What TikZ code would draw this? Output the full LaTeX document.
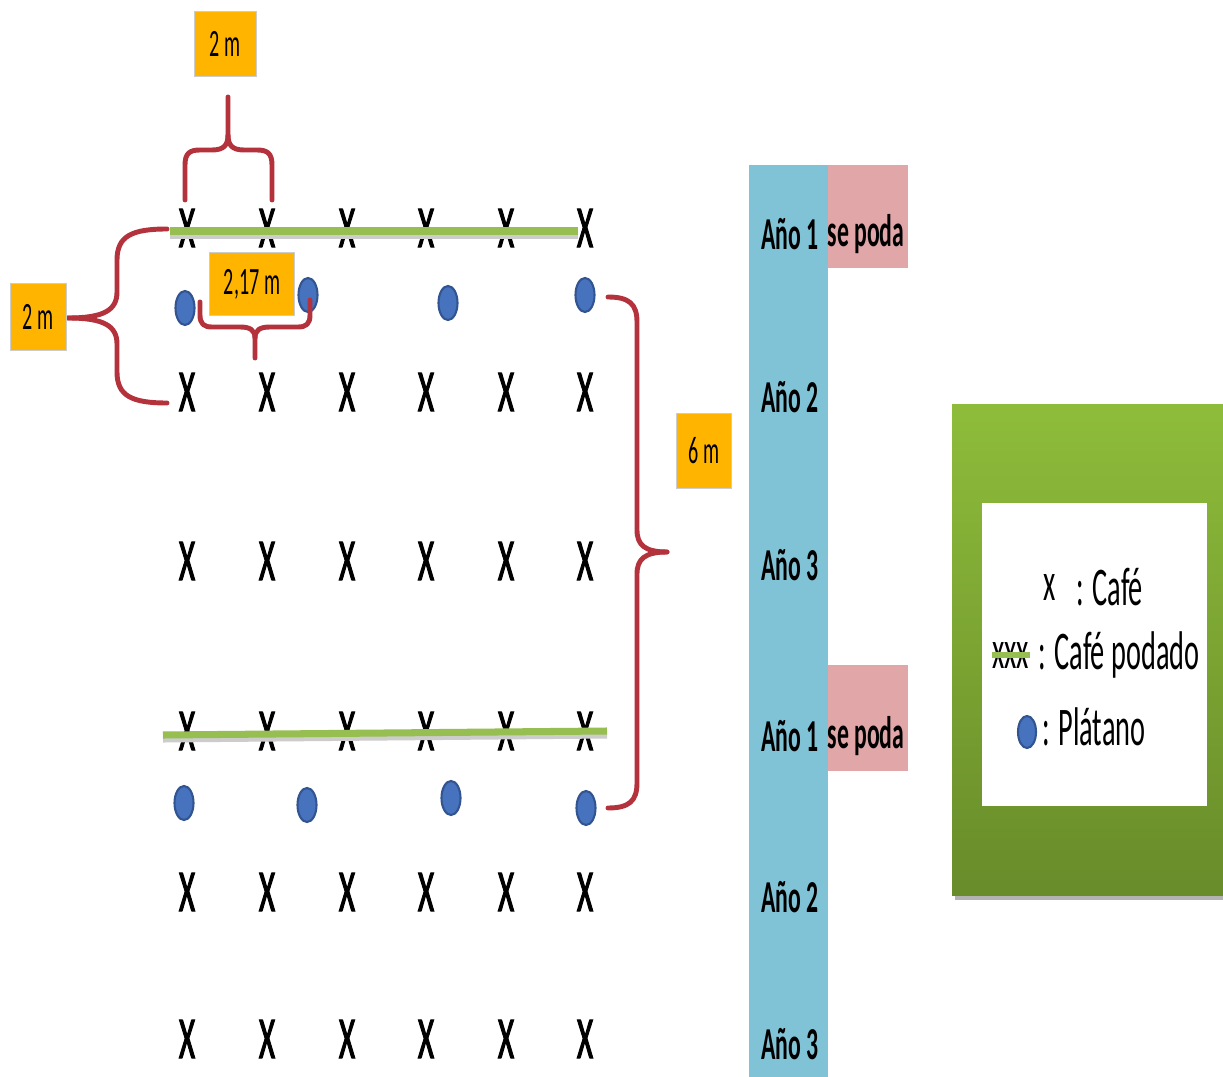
\documentclass[tikz,border=0pt]{standalone}
\usepackage{fontspec}
\setmainfont{Carlito}[FakeStretch=0.52]
\newfontfamily\crossfont{Carlito}[FakeStretch=0.52, FakeBold=1.6]
\definecolor{gold}{RGB}{255,180,0}
\definecolor{bracered}{RGB}{180,50,60}
\definecolor{leafgreen}{RGB}{150,190,80}
\definecolor{dotblue}{RGB}{70,114,190}
\definecolor{dotedge}{RGB}{50,85,145}
\definecolor{colblue}{RGB}{128,195,214}
\definecolor{podapink}{RGB}{224,166,168}
\definecolor{legtop}{RGB}{142,188,58}
\definecolor{legbot}{RGB}{104,140,42}
\tikzset{
  x=0.02cm, y=-0.02cm,
  cafe/.style={inner sep=0pt, font=\crossfont\fontsize{34}{34}\selectfont},
  dot/.style={draw=dotedge, line width=1.2pt, fill=dotblue},
  label box/.style={fill=gold, draw=gray!40, line width=0.4pt, inner sep=0pt,
    font=\fontsize{22}{22}\selectfont},
  brace/.style={draw=bracered, line width=2.8pt, line cap=round, line join=round},
  pruned/.style={draw=leafgreen, line width=4pt},
  year/.style={font=\bfseries\fontsize{26}{26}\selectfont, inner sep=0pt},
  legtext/.style={font=\fontsize{31}{31}\selectfont, inner sep=0pt, anchor=west},
}
\begin{document}
\begin{tikzpicture}
\useasboundingbox (0,0) rectangle (1223,1077);
\fill[white] (0,0) rectangle (1223,1077);

% ---- coffee crosses ----
\foreach \r/\yy in {1/228,2/392,3/561,4/731,5/892,6/1039}{
  \foreach \c/\xx in {1/187,2/267,3/347,4/426,5/506,6/585}{
    \node[cafe] (x\r\c) at (\xx,\yy) {X};
  }
}

% ---- pruned rows (green lines over the crosses) ----
\draw[pruned, draw=black!20] (170,235) -- (578,235);
\draw[pruned] (170,231) -- (578,231);
\draw[pruned, draw=black!20] (163,739) -- (607,735);
\draw[pruned] (163,735) -- (607,731);

% ---- plantain dots ----
\foreach \n/\xx/\yy in {a/185/308,b/308/295,c/448/303,d/585/295,e/184/803,f/307/805,g/451/798,h/586/808}{
  \draw[dot] (\xx,\yy) ellipse [x radius=9.5, y radius=17];
  \coordinate (p\n) at (\xx,\yy);
}

% ---- braces ----
% top (2 m)
\coordinate (tb1) at (185,200);
\coordinate (tb2) at (272,200);
\coordinate (tbt) at (228,97);
\draw[brace] (tb1) -- (185,165) .. controls (185,153) and (190,150) .. (200,150)
  -- (212,150) .. controls (224,150) and (228,145) .. (228,135) -- (tbt);
\draw[brace] (tb2) -- (272,165) .. controls (272,153) and (267,150) .. (257,150)
  -- (244,150) .. controls (232,150) and (228,145) .. (228,135);
% left (2 m)
\coordinate (lb1) at (167,229);
\coordinate (lb2) at (167,403);
\coordinate (lbt) at (68,318);
\draw[brace] (lb1) .. controls (132,229) and (117,236) .. (117,260) -- (117,292)
  .. controls (117,310) and (104,318) .. (lbt);
\draw[brace] (lb2) .. controls (132,403) and (117,396) .. (117,372) -- (117,344)
  .. controls (117,326) and (104,318) .. (lbt);
% 2,17 m
\coordinate (mb1) at (200,302);
\coordinate (mb2) at (310,300);
\coordinate (mbt) at (255,358);
\draw[brace] (mb1) -- (200,315) .. controls (200,324) and (204,327) .. (212,327)
  -- (240,327) .. controls (250,327) and (255,330) .. (255,338) -- (mbt);
\draw[brace] (mb2) -- (310,315) .. controls (310,324) and (306,327) .. (298,327)
  -- (270,327) .. controls (260,327) and (255,330) .. (255,338);
% right (6 m)
\coordinate (rb1) at (608,297);
\coordinate (rb2) at (608,808);
\coordinate (rbt) at (667,552);
\draw[brace] (rb1) .. controls (629,297) and (637,304) .. (637,322) -- (637,530)
  .. controls (637,545) and (645,552) .. (rbt);
\draw[brace] (rb2) .. controls (629,808) and (637,801) .. (637,783) -- (637,574)
  .. controls (637,559) and (645,552) .. (rbt);

% ---- measurement labels ----
\node[label box, minimum width=62*0.02cm, minimum height=65*0.02cm] (l2top) at (225,44) {2 m};
\node[label box, minimum width=56*0.02cm, minimum height=67*0.02cm] (l2left) at (38,317) {2 m};
\node[label box, minimum width=85*0.02cm, minimum height=63*0.02cm] (l217) at (252,284) {2,17 m};
\node[label box, minimum width=55*0.02cm, minimum height=75*0.02cm] (l6) at (704,451) {6 m};

% ---- year column ----
\fill[colblue] (749,165) rectangle (828,1077);
\fill[podapink] (828,165) rectangle (908,268);
\fill[podapink] (828,665) rectangle (908,771);
\foreach \n/\yy/\t in {y1/234/Año 1,y2/397/Año 2,y3/565/Año 3,y4/736/Año 1,y5/897/Año 2,y6/1044/Año 3}{
  \node[year] (\n) at (790,\yy) {\t};
}
\node[year] (poda1) at (866,234) {se poda};
\node[year] (poda2) at (866,736) {se poda};

% ---- legend ----
\fill[black!30] (955,410) rectangle (1223,900);
\shade[top color=legtop, bottom color=legbot] (952,405) rectangle (1223,895);
\fill[white] (982,503) rectangle (1207,806);
\node[legtext] (lx) at (1043,587) {x};
\node[legtext] (lcafe) at (1076,587) {: Café};
\node[legtext] (lxxx) at (992,655) {xxx};
\draw[leafgreen, line width=3pt] (lxxx.west) -- (lxxx.east);
\node[legtext] (lpod) at (1038,655) {: Café podado};
\draw[dot] (1027,732) ellipse [x radius=9, y radius=16];
\node[legtext] (lpla) at (1042,727) {: Plátano};
\end{tikzpicture}
\end{document}
